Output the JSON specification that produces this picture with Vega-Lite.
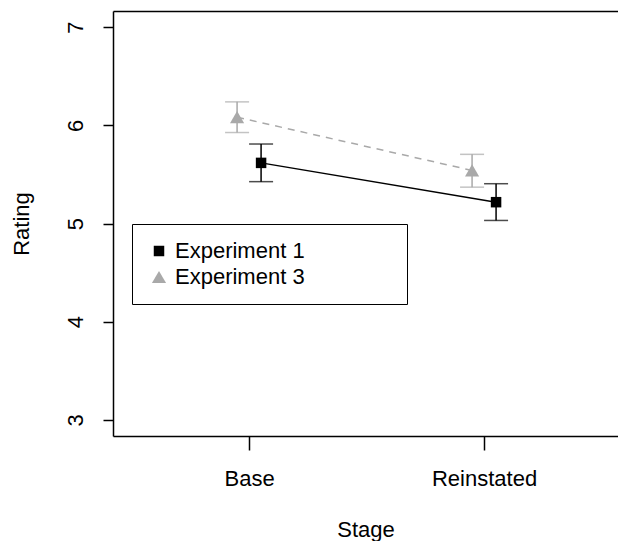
{
  "$schema": "https://vega.github.io/schema/vega-lite/v6.json",
  "autosize": {"type": "none"},
  "padding": {"left": 113, "top": 11, "right": 0, "bottom": 105},
  "width": 505,
  "height": 425,
  "config": {
    "view": {"stroke": null},
    "font": "Liberation Sans",
    "legend": {
      "orient": "none",
      "legendX": 19,
      "legendY": 213,
      "strokeColor": "black",
      "padding": 16,
      "labelFontSize": 22,
      "labelFont": "Liberation Sans",
      "labelColor": "black",
      "labelOffset": 5,
      "rowPadding": 4,
      "symbolStrokeWidth": 0,
      "labelLimit": 400
    }
  },
  "data": {
    "values": [
      {"stage": "Base", "exp": "Experiment 1", "mean": 5.617, "lo": 5.426, "hi": 5.809},
      {"stage": "Reinstated", "exp": "Experiment 1", "mean": 5.217, "lo": 5.031, "hi": 5.405},
      {"stage": "Base", "exp": "Experiment 3", "mean": 6.082, "lo": 5.926, "hi": 6.238},
      {"stage": "Reinstated", "exp": "Experiment 3", "mean": 5.540, "lo": 5.370, "hi": 5.704}
    ]
  },
  "resolve": {"axis": {"x": "independent", "y": "independent"}},
  "layer": [
    {
      "transform": [{"filter": "datum.exp === 'Experiment 3'"}],
      "mark": {"type": "rule", "color": "#a9a9a9", "strokeWidth": 1.5, "xOffset": -12},
      "encoding": {
        "x": {
          "field": "stage", "type": "ordinal",
          "scale": {"type": "point", "domain": ["Base", "Reinstated"], "padding": 0.5745, "align": 0.504},
          "axis": {
            "orient": "bottom", "domain": true, "domainColor": "black", "domainWidth": 1.5,
            "ticks": true, "tickSize": 14, "tickColor": "black", "tickWidth": 1.5,
            "labelFontSize": 22, "labelFont": "Liberation Sans", "labelColor": "black",
            "labelPadding": 35, "labelBaseline": "alphabetic", "labelAngle": 0,
            "title": "Stage", "titleFontSize": 22, "titleFont": "Liberation Sans",
            "titleFontWeight": "normal", "titleColor": "black",
            "titleY": 100.5, "titleBaseline": "alphabetic", "grid": false
          }
        },
        "y": {
          "field": "lo", "type": "quantitative",
          "scale": {"domain": [2.837, 7.163], "nice": false, "zero": false},
          "axis": {
            "orient": "left", "values": [3, 4, 5, 6, 7], "domain": true, "domainColor": "black", "domainWidth": 1.5,
            "tickSize": 10, "tickColor": "black", "tickWidth": 1.5,
            "labelFontSize": 22, "labelFont": "Liberation Sans", "labelColor": "black",
            "labelAngle": 270, "labelAlign": "center", "labelBaseline": "alphabetic", "labelPadding": 21,
            "title": "Rating", "titleFontSize": 22, "titleFont": "Liberation Sans", "titleFontWeight": "normal",
            "titleColor": "black", "titleAngle": 270, "titleX": -84.5, "titleY": 212.5,
            "titleAlign": "center", "titleBaseline": "alphabetic", "grid": false
          }
        },
        "y2": {"field": "hi"}
      }
    },
    {
      "transform": [{"filter": "datum.exp === 'Experiment 3'"}],
      "mark": {"type": "tick", "color": "#a9a9a9", "thickness": 1.5, "size": 24, "xOffset": -12},
      "encoding": {
        "x": {
          "field": "stage", "type": "ordinal",
          "axis": {"orient": "top", "domain": true, "domainColor": "black", "domainWidth": 1.5, "ticks": false, "labels": false, "title": null, "grid": false}
        },
        "y": {"field": "hi", "type": "quantitative", "axis": null}
      }
    },
    {
      "transform": [{"filter": "datum.exp === 'Experiment 3'"}],
      "mark": {"type": "tick", "color": "#a9a9a9", "thickness": 1.5, "size": 24, "xOffset": -12},
      "encoding": {
        "x": {"field": "stage", "type": "ordinal", "axis": null},
        "y": {"field": "lo", "type": "quantitative", "axis": null}
      }
    },
    {
      "transform": [{"filter": "datum.exp === 'Experiment 1'"}],
      "mark": {"type": "rule", "color": "black", "strokeWidth": 1.5, "xOffset": 12},
      "encoding": {
        "x": {"field": "stage", "type": "ordinal", "axis": null},
        "y": {"field": "lo", "type": "quantitative", "axis": null},
        "y2": {"field": "hi"}
      }
    },
    {
      "transform": [{"filter": "datum.exp === 'Experiment 1'"}],
      "mark": {"type": "tick", "color": "black", "thickness": 1.5, "size": 24, "xOffset": 12},
      "encoding": {
        "x": {"field": "stage", "type": "ordinal", "axis": null},
        "y": {"field": "hi", "type": "quantitative", "axis": null}
      }
    },
    {
      "transform": [{"filter": "datum.exp === 'Experiment 1'"}],
      "mark": {"type": "tick", "color": "black", "thickness": 1.5, "size": 24, "xOffset": 12},
      "encoding": {
        "x": {"field": "stage", "type": "ordinal", "axis": null},
        "y": {"field": "lo", "type": "quantitative", "axis": null}
      }
    },
    {
      "transform": [{"filter": "datum.exp === 'Experiment 3'"}],
      "mark": {"type": "line", "color": "#a9a9a9", "strokeWidth": 1.5, "strokeDash": [7, 6], "xOffset": -12},
      "encoding": {
        "x": {"field": "stage", "type": "ordinal", "axis": null},
        "y": {"field": "mean", "type": "quantitative", "axis": null}
      }
    },
    {
      "transform": [{"filter": "datum.exp === 'Experiment 1'"}],
      "mark": {"type": "line", "color": "black", "strokeWidth": 1.5, "xOffset": 12},
      "encoding": {
        "x": {"field": "stage", "type": "ordinal", "axis": null},
        "y": {"field": "mean", "type": "quantitative", "axis": null}
      }
    },
    {
      "transform": [{"filter": "datum.exp === 'Experiment 3'"}],
      "mark": {"type": "point", "filled": true, "opacity": 1, "strokeWidth": 0, "xOffset": -12},
      "encoding": {
        "x": {"field": "stage", "type": "ordinal", "axis": null},
        "y": {"field": "mean", "type": "quantitative", "axis": null},
        "color": {"field": "exp", "type": "nominal", "title": null, "scale": {"domain": ["Experiment 1", "Experiment 3"], "range": ["black", "#a9a9a9"]}, "legend": {"labelExpr": "datum.label + '\u00a0\u00a0\u00a0\u00a0\u00a0\u00a0\u00a0\u00a0\u00a0\u00a0\u00a0\u00a0\u00a0\u00a0\u200b'"}},
        "shape": {"field": "exp", "type": "nominal", "title": null, "scale": {"domain": ["Experiment 1", "Experiment 3"], "range": ["square", "triangle-up"]}, "legend": {"labelExpr": "datum.label + '\u00a0\u00a0\u00a0\u00a0\u00a0\u00a0\u00a0\u00a0\u00a0\u00a0\u00a0\u00a0\u00a0\u00a0\u200b'"}},
        "size": {"field": "exp", "type": "nominal", "title": null, "scale": {"domain": ["Experiment 1", "Experiment 3"], "range": [110, 200]}, "legend": {"labelExpr": "datum.label + '\u00a0\u00a0\u00a0\u00a0\u00a0\u00a0\u00a0\u00a0\u00a0\u00a0\u00a0\u00a0\u00a0\u00a0\u200b'"}}
      }
    },
    {
      "transform": [{"filter": "datum.exp === 'Experiment 1'"}],
      "mark": {"type": "point", "filled": true, "opacity": 1, "strokeWidth": 0, "xOffset": 12},
      "encoding": {
        "x": {"field": "stage", "type": "ordinal", "axis": null},
        "y": {"field": "mean", "type": "quantitative", "axis": null},
        "color": {"field": "exp", "type": "nominal", "title": null, "legend": {"labelExpr": "datum.label + '\u00a0\u00a0\u00a0\u00a0\u00a0\u00a0\u00a0\u00a0\u00a0\u00a0\u00a0\u00a0\u00a0\u00a0\u200b'"}},
        "shape": {"field": "exp", "type": "nominal", "title": null, "legend": {"labelExpr": "datum.label + '\u00a0\u00a0\u00a0\u00a0\u00a0\u00a0\u00a0\u00a0\u00a0\u00a0\u00a0\u00a0\u00a0\u00a0\u200b'"}},
        "size": {"field": "exp", "type": "nominal", "title": null, "legend": {"labelExpr": "datum.label + '\u00a0\u00a0\u00a0\u00a0\u00a0\u00a0\u00a0\u00a0\u00a0\u00a0\u00a0\u00a0\u00a0\u00a0\u200b'"}}
      }
    }
  ]
}
